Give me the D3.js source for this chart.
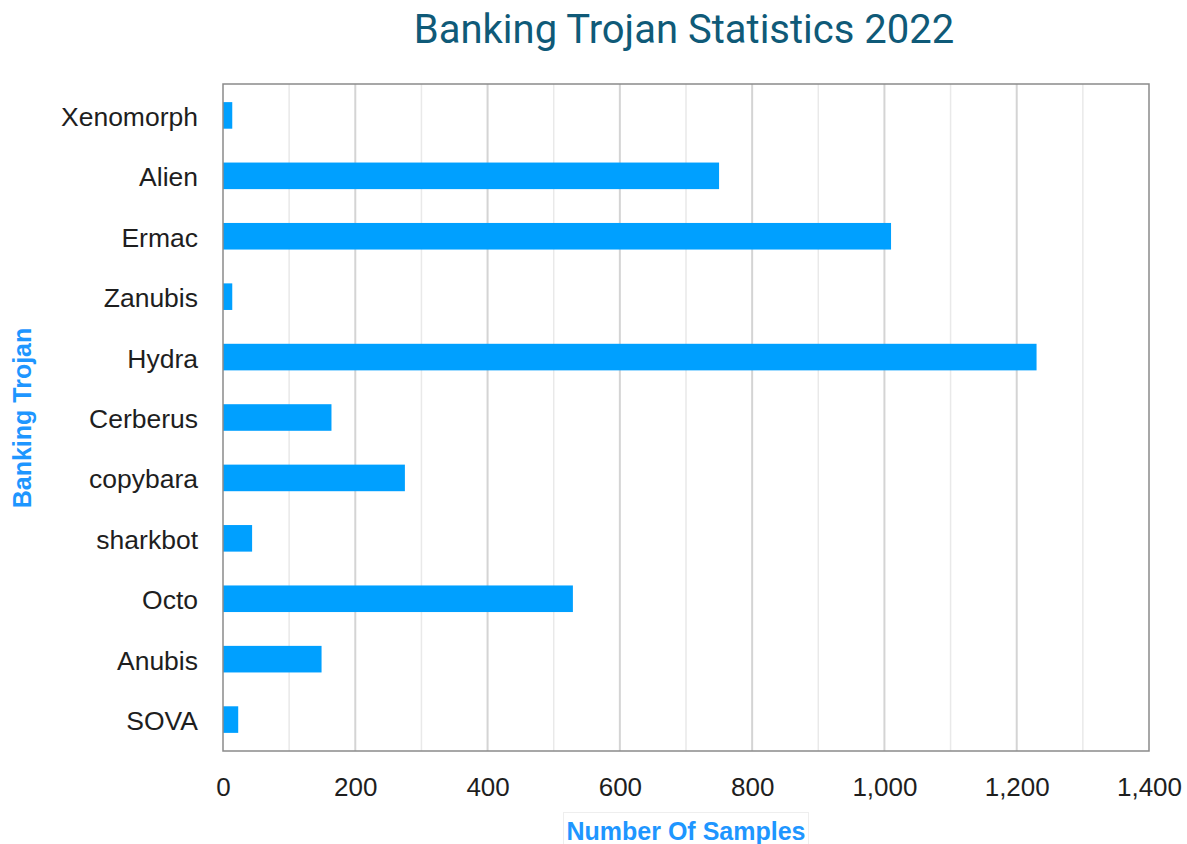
<!DOCTYPE html>
<html>
<head>
<meta charset="utf-8">
<script src="https://cdn.jsdelivr.net/npm/d3@7"></script>
<style>
  html, body { margin: 0; padding: 0; background: #fff; }
  svg { display: block; }
</style>
</head>
<body>
<svg id="chart" width="1187" height="844"></svg>
<script>
// Banking trojan sample counts, 2022
const trojans = ["Xenomorph", "Alien", "Ermac", "Zanubis", "Hydra", "Cerberus", "copybara", "sharkbot", "Octo", "Anubis", "SOVA"];
const samples = [14, 750, 1010, 14, 1230, 164, 275, 44, 529, 149, 23];
const xTicks = [0, 200, 400, 600, 800, 1000, 1200, 1400];
const xMinorTicks = [100, 300, 500, 700, 900, 1100, 1300];

const W = 1187, H = 844;
const margin = { top: 84, right: 38, bottom: 93, left: 223 };
const svg = d3.select("#chart");

const x = d3.scaleLinear().domain([0, 1400]).range([margin.left, W - margin.right]);
const y = d3.scaleBand().domain(trojans).range([margin.top, H - margin.bottom]).paddingInner(0.56).paddingOuter(0.3);

const fmt = d3.format(",");
const labelFont = "Liberation Sans, Arial, Helvetica, sans-serif";

// minor and major vertical grid lines
svg.append("g").selectAll("line").data(xMinorTicks).join("line")
  .attr("x1", d => x(d)).attr("x2", d => x(d))
  .attr("y1", margin.top).attr("y2", H - margin.bottom)
  .attr("stroke", "#e9e9e9").attr("stroke-width", 1.5);
svg.append("g").selectAll("line").data(xTicks.slice(1, -1)).join("line")
  .attr("x1", d => x(d)).attr("x2", d => x(d))
  .attr("y1", margin.top).attr("y2", H - margin.bottom)
  .attr("stroke", "#d4d4d4").attr("stroke-width", 2);

// bars
svg.append("g").selectAll("rect").data(trojans).join("rect")
  .attr("x", x(0))
  .attr("y", d => y(d))
  .attr("width", (d, i) => x(samples[i]) - x(0))
  .attr("height", y.bandwidth())
  .attr("fill", "#00a0ff");

// plot frame
svg.append("rect")
  .attr("x", x(0)).attr("y", margin.top)
  .attr("width", x(1400) - x(0)).attr("height", H - margin.bottom - margin.top)
  .attr("fill", "none").attr("stroke", "#8a8a8a").attr("stroke-width", 1.5);

// x axis labels
const xAxis = d3.axisBottom(x).tickValues(xTicks).tickFormat(fmt).tickSize(0).tickPadding(27);
svg.append("g")
  .attr("transform", `translate(0,${H - margin.bottom})`)
  .call(xAxis)
  .call(g => g.select(".domain").remove())
  .selectAll("text")
  .attr("font-family", labelFont)
  .attr("font-size", 26)
  .attr("fill", "#1e1e1e");

// y axis labels
const yAxis = d3.axisLeft(y).tickSize(0).tickPadding(25);
svg.append("g")
  .attr("transform", `translate(${margin.left},2)`)
  .call(yAxis)
  .call(g => g.select(".domain").remove())
  .selectAll("text")
  .attr("font-family", labelFont)
  .attr("font-size", 26.5)
  .attr("fill", "#1e1e1e");

// title
svg.append("text")
  .attr("x", 684).attr("y", 43)
  .attr("text-anchor", "middle")
  .attr("font-family", "Roboto, sans-serif")
  .attr("font-size", 40)
  .attr("fill", "#0f5a78")
  .text("Banking Trojan Statistics 2022");

// x axis title on a light label box
svg.append("rect")
  .attr("x", 563.5).attr("y", 812.5)
  .attr("width", 245).attr("height", 40)
  .attr("fill", "#fff").attr("stroke", "#eeeeee").attr("stroke-width", 1);
svg.append("text")
  .attr("x", 686).attr("y", 840)
  .attr("text-anchor", "middle")
  .attr("font-family", labelFont)
  .attr("font-weight", "bold")
  .attr("font-size", 25)
  .attr("fill", "#1e96ff")
  .text("Number Of Samples");

svg.append("text")
  .attr("transform", "translate(31,418) rotate(-90)")
  .attr("text-anchor", "middle")
  .attr("font-family", labelFont)
  .attr("font-weight", "bold")
  .attr("font-size", 25)
  .attr("fill", "#1e96ff")
  .text("Banking Trojan");
</script>
</body>
</html>
